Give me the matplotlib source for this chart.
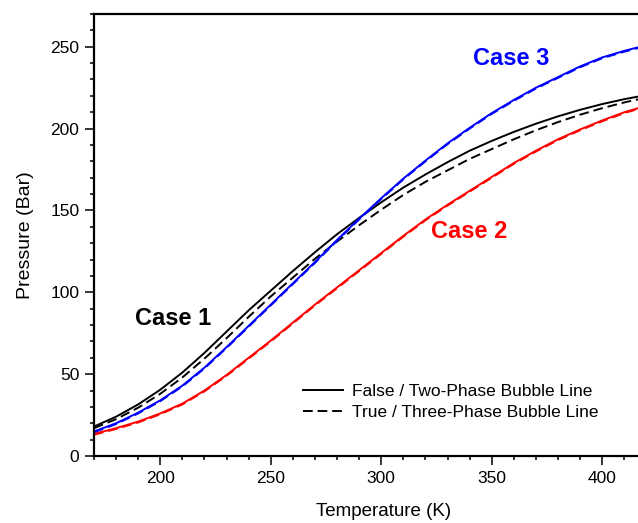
import numpy as np
import matplotlib
matplotlib.use("Agg")
import matplotlib.pyplot as plt
from matplotlib.ticker import MultipleLocator

plt.rcParams['font.family'] = ['Liberation Sans', 'DejaVu Sans']

temp = [170, 180, 190, 200, 210, 220, 230, 240, 250, 260, 270, 280, 290,
        300, 310, 320, 330, 340, 350, 360, 370, 380, 390, 400, 410, 420]

# pressure (Bar), Case 1
case1_two = [18, 24, 31.5, 40.5, 51, 63, 76, 89, 101, 113, 124.5, 135.5, 145.5,
             155, 164, 172, 179.5, 186.5, 192.5, 198, 203, 207.5, 211.5, 215, 218, 220.5]
case1_three = [17, 22.5, 29.5, 38, 48, 59.5, 72, 85, 97.5, 109, 120.5, 131, 141,
               150.5, 159.5, 167.5, 174.5, 181.5, 187.5, 193.5, 199, 204, 208.5, 212.5, 216, 219]
# Case 2
case2_two = [13.5, 17, 21, 26, 32, 40, 49.5, 60, 70.5, 81.5, 92.5, 103, 113.5,
             124, 134.5, 144.5, 153.5, 162, 170.5, 179, 186.5, 193.5, 199.5, 205, 210, 214]
case2_three = [13, 16.5, 20.5, 25.5, 31.5, 39.5, 49, 59.5, 70, 81, 92, 102.5, 113,
               123.5, 134, 144, 153, 161.5, 170, 178.5, 186, 193, 199, 204.5, 209.5, 213.5]
# Case 3
case3_two = [15, 20, 26.5, 34, 43, 54, 66.5, 79.5, 92.5, 105.5, 118.5, 132, 145,
             157.5, 169.5, 180.5, 191, 200.5, 209.5, 217.5, 225, 231.5, 238, 243.5, 247.5, 251]
case3_three = [14.5, 19.5, 26, 33.5, 42.5, 53.5, 66, 79, 92, 105, 118, 131.5, 144.5,
               157, 169, 180, 190.5, 200, 209, 217, 224.5, 231, 237.5, 243, 247, 250.5]

fig = plt.figure(figsize=(6.38, 5.23), dpi=100)
ax = fig.add_axes([0.1473, 0.1281, 0.866, 0.8451])

lw = 1.4
dash = (5, 2.5)
ax.plot(temp, case1_two, color='black', lw=lw, label='False / Two-Phase Bubble Line')
ax.plot(temp, case1_three, color='black', lw=lw, ls='--', dashes=dash,
        label='True / Three-Phase Bubble Line')
ax.plot(temp, case2_two, color='#ff0000', lw=lw)
ax.plot(temp, case2_three, color='#ff0000', lw=lw, ls='--', dashes=dash)
ax.plot(temp, case3_two, color='#0000ff', lw=lw)
ax.plot(temp, case3_three, color='#0000ff', lw=lw, ls='--', dashes=dash)

ax.text(206, 84, 'Case 1', color='black', fontsize=17, fontweight='bold', ha='center', va='center')
ax.text(340, 137, 'Case 2', color='#ff0000', fontsize=17, fontweight='bold', ha='center', va='center')
ax.text(359, 243, 'Case 3', color='#0000ff', fontsize=17, fontweight='bold', ha='center', va='center')

ax.set_xlim(170, 420)
ax.set_ylim(0, 270)
ax.xaxis.set_major_locator(MultipleLocator(50))
ax.xaxis.set_minor_locator(MultipleLocator(10))
ax.yaxis.set_major_locator(MultipleLocator(50))
ax.yaxis.set_minor_locator(MultipleLocator(10))
ax.tick_params(which='major', direction='out', length=6.5, width=1.1, labelsize=12.5, pad=4)
ax.tick_params(which='minor', direction='out', length=3, width=1.1)
for s in ax.spines.values():
    s.set_linewidth(1.6)

ax.set_xlabel('Temperature (K)', fontsize=13.5)
ax.xaxis.set_label_coords(0.525, -0.107)
ax.set_ylabel('Pressure (Bar)', fontsize=14, labelpad=12)

ax.legend(loc='lower left', bbox_to_anchor=(0.366, 0.065), frameon=False, fontsize=12.5,
          handlelength=2.3, handletextpad=0.5, labelspacing=0.33, borderaxespad=0)

fig.savefig('out.png', dpi=100)
